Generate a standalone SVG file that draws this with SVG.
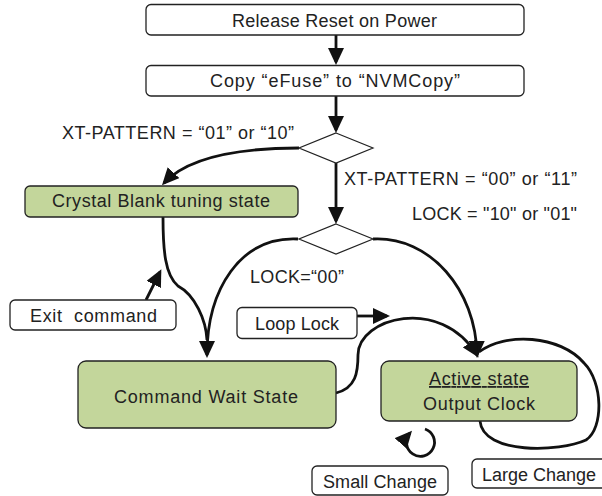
<svg xmlns="http://www.w3.org/2000/svg" width="602" height="496" viewBox="0 0 602 496">
<style>
text{font-family:"Liberation Sans",Arial,sans-serif;font-size:18px;fill:#222}
.box{fill:#fff;stroke:#222;stroke-width:1.3}
.state{fill:#c3d69b;stroke:#222;stroke-width:1.3}
.dia{fill:#fff;stroke:#222;stroke-width:1.2}
.c{fill:none;stroke:#111;stroke-width:2.8}
.ca{fill:none;stroke:#111;stroke-width:2.8;marker-end:url(#ah)}
.mid{text-anchor:middle}
</style>
<defs>
<marker id="ah" viewBox="0 0 17 16" refX="14" refY="8" markerWidth="17" markerHeight="16" markerUnits="userSpaceOnUse" orient="auto">
<path d="M0,0 L17,8 L0,16 z" fill="#111"/>
</marker>
</defs>
<g id="connectors">
<path class="ca" d="M336,35 L336,62"/>
<path class="ca" d="M336,96 L336,130"/>
<path class="ca" d="M336,163 L336,221"/>
<path class="ca" d="M299,148 C245,148 190,155 164,183"/>
<path class="c" d="M163,217 C163,250 165,275 178,286 C195,295 206,320 207,340"/>
<path class="ca" d="M298,239 C240,236 207,290 207,355"/>
<path class="ca" d="M373,239 C430,236 476,290 477,355"/>
<path class="ca" d="M336,393 C356,388 358,372 358,355 C358,318 440,295 477,355"/>
<path class="c" d="M480,421 C483,455 560,452 586,440 C604,428 603,382 584,363 C560,335 505,332 479,352"/>
<path class="ca" d="M146,300 L160,272"/>
<path class="ca" d="M357,316 L387,316"/>
<path class="ca" d="M425,429 A14,14 0 1 1 410,433"/>
</g>
<g id="release"><rect class="box" x="146" y="4.5" width="378" height="30.5" rx="5"/><text x="334.5" y="27" class="mid" textLength="205">Release Reset on Power</text></g>
<g id="copy"><rect class="box" x="146" y="65.5" width="378" height="30.5" rx="5"/><text x="335" y="86.5" class="mid" textLength="250">Copy “eFuse” to “NVMCopy”</text></g>
<g id="diamond1"><path class="dia" d="M336,133 L373,148 L336,163 L299,148 z"/></g>
<g id="diamond2"><path class="dia" d="M336,224 L373,239 L336,254 L299,239 z"/></g>
<g id="crystal"><rect class="state" x="25" y="186" width="273" height="31" rx="5"/><text x="161" y="207" class="mid" textLength="218">Crystal Blank tuning state</text></g>
<g id="exit"><rect class="box" x="10" y="300" width="166" height="30" rx="5"/><text x="30" y="322" textLength="127" xml:space="preserve">Exit  command</text></g>
<g id="looplock"><rect class="box" x="237" y="307.5" width="120" height="31" rx="5"/><text x="255" y="330" textLength="84">Loop Lock</text></g>
<g id="cmdwait"><rect class="state" x="78" y="361" width="258" height="67" rx="8"/><text x="206" y="403" class="mid" textLength="184">Command Wait State</text></g>
<g id="active"><rect class="state" x="381" y="361" width="196" height="60" rx="8"/><text x="479" y="385" class="mid" textLength="100" text-decoration="underline">Active state</text><text x="479" y="410" class="mid" textLength="112">Output Clock</text></g>
<g id="small"><rect class="box" x="312" y="466" width="136" height="29" rx="5"/><text x="323" y="488" textLength="114">Small Change</text></g>
<g id="large"><rect class="box" x="472" y="459" width="140" height="29" rx="5"/><text x="482" y="481" textLength="114">Large Change</text></g>
<g id="labels">
<text x="62" y="139" textLength="232">XT-PATTERN = “01” or “10”</text>
<text x="344" y="185" textLength="233">XT-PATTERN = “00” or “11”</text>
<text x="412" y="220" textLength="165">LOCK = "10" or "01"</text>
<text x="250" y="283" textLength="94">LOCK=“00”</text>
</g>
</svg>
